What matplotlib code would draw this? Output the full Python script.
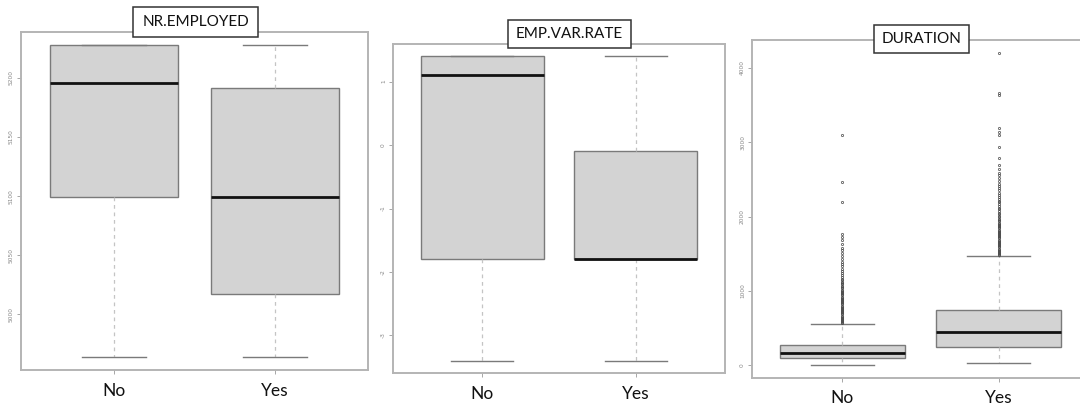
import matplotlib
matplotlib.use("Agg")
import matplotlib.pyplot as plt
from matplotlib.patches import Rectangle

plt.rcParams['font.family'] = ['Lato', 'DejaVu Sans']

groups = ["No", "Yes"]

# NR.EMPLOYED five-number summaries per outcome
nr_q1 = [5099.1, 5017.5]
nr_med = [5195.8, 5099.1]
nr_q3 = [5228.1, 5191.0]
nr_lo = [4963.6, 4963.6]
nr_hi = [5228.1, 5228.1]
nr_ticks = [5000, 5050, 5100, 5150, 5200]

# EMP.VAR.RATE
ev_q1 = [-1.8, -1.8]
ev_med = [1.1, -1.8]
ev_q3 = [1.4, -0.1]
ev_lo = [-3.4, -3.4]
ev_hi = [1.4, 1.4]
ev_ticks = [-3, -2, -1, 0, 1]

# DURATION
du_q1 = [95, 254]
du_med = [164, 455]
du_q3 = [280, 741]
du_lo = [0, 40]
du_hi = [562, 1473]
du_ticks = [0, 1000, 2000, 3000, 4000]

du_out_no = [566, 580, 595, 610, 625, 640, 655, 670, 685, 700, 715, 730, 745,
             760, 775, 790, 805, 820, 835, 850, 866, 880, 896, 910, 925, 940,
             956, 970, 985, 1000, 1018, 1035, 1052, 1070, 1088, 1105, 1125,
             1145, 1165, 1190, 1212, 1240, 1265, 1295, 1330, 1360, 1395, 1430,
             1470, 1510, 1545, 1580, 1625, 1680, 1720, 1760, 2196, 2468, 3098]
du_out_yes = [1480, 1495, 1510, 1525, 1540, 1555, 1570, 1585, 1600, 1615, 1630,
              1645, 1660, 1675, 1690, 1705, 1720, 1735, 1750, 1765, 1780, 1795,
              1810, 1825, 1840, 1855, 1870, 1885, 1900, 1918, 1935, 1952, 1970,
              1990, 2010, 2030, 2050, 2072, 2095, 2118, 2140, 2165, 2190, 2215,
              2240, 2268, 2295, 2320, 2350, 2380, 2410, 2440, 2480, 2520, 2555,
              2590, 2640, 2690, 2786, 2933, 3088, 3140, 3187, 3633, 3656, 4200]

FRAME = "#b4b4b4"
EDGE = "#7a7a7a"
FILL = "#d3d3d3"


def stats(q1, med, q3, lo, hi, fliers=None):
    out = []
    for i in range(len(q1)):
        out.append(dict(q1=q1[i], med=med[i], q3=q3[i], whislo=lo[i],
                        whishi=hi[i],
                        fliers=(fliers[i] if fliers else []),
                        label=groups[i]))
    return out


def panel(ax, st, ticks, ylim, label_pad):
    ax.bxp(st, positions=[1, 2], widths=0.8, patch_artist=True,
           showfliers=True,
           boxprops=dict(facecolor=FILL, edgecolor=EDGE, linewidth=1.0),
           medianprops=dict(color="#111111", linewidth=2.0),
           whiskerprops=dict(color="#c4c4c4", linewidth=0.9,
                             linestyle=(0, (3, 3))),
           capprops=dict(color=EDGE, linewidth=1.0),
           capwidths=0.4,
           flierprops=dict(marker="o", markersize=1.6, markerfacecolor="none",
                           markeredgecolor="#444444", markeredgewidth=0.6,
                           alpha=0.85))
    ax.set_xlim(0.42, 2.58)
    ax.set_ylim(*ylim)
    ax.set_yticks(ticks)
    ax.set_yticklabels([str(t) for t in ticks], rotation=90, va="center",
                       fontsize=4.2, color="#888888",
                       family="DejaVu Sans")
    ax.set_xticks([1, 2])
    ax.set_xticklabels(groups, fontsize=12.5, color="#111111")
    ax.tick_params(axis="y", length=3, width=0.6, color="#999999", pad=2)
    ax.tick_params(axis="x", length=3, width=0.6, color="#999999",
                   pad=label_pad)
    for s in ax.spines.values():
        s.set_color(FRAME)
        s.set_linewidth(1.4)


fig = plt.figure(figsize=(10.8, 4.05), dpi=100)
W, H = 1080.0, 405.0


def add_axes(x0, y0, x1, y1):
    return fig.add_axes([x0 / W, 1 - y1 / H, (x1 - x0) / W, (y1 - y0) / H])


ax1 = add_axes(21, 32, 368, 370)
ax2 = add_axes(393, 44, 725, 373)
ax3 = add_axes(752, 40, 1089, 378)

panel(ax1, stats(nr_q1, nr_med, nr_q3, nr_lo, nr_hi), nr_ticks,
      (4953.0, 5238.7), 6.5)
panel(ax2, stats(ev_q1, ev_med, ev_q3, ev_lo, ev_hi), ev_ticks,
      (-3.592, 1.592), 6.5)
panel(ax3, stats(du_q1, du_med, du_q3, du_lo, du_hi,
                 [du_out_no, du_out_yes]), du_ticks, (-168, 4370), 5.5)

titles = ["NR.EMPLOYED", "EMP.VAR.RATE", "DURATION"]
boxes = [(133, 7, 258, 37), (508, 20, 631, 48), (874, 25, 969, 53)]
for t, (x0, y0, x1, y1) in zip(titles, boxes):
    fig.add_artist(Rectangle((x0 / W, 1 - y1 / H), (x1 - x0) / W,
                             (y1 - y0) / H, transform=fig.transFigure,
                             facecolor="white", edgecolor="#333333",
                             linewidth=1.1, zorder=5))
    fig.text((x0 + x1) / 2 / W, 1 - (y0 + y1) / 2 / H, t, ha="center",
             va="center", fontsize=11, color="#111111", zorder=6)

fig.savefig("out.png", dpi=100, facecolor="white")
